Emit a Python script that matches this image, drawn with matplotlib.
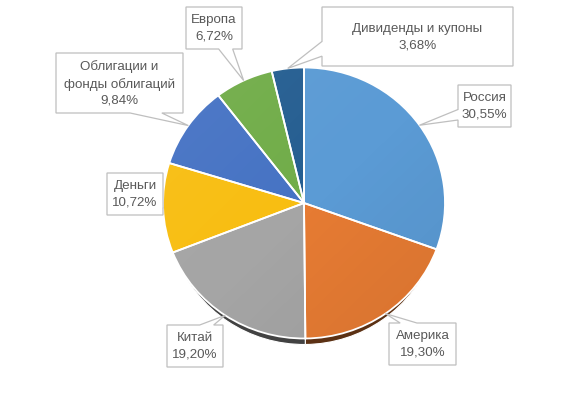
import matplotlib
matplotlib.use('Agg')
import matplotlib.pyplot as plt
from matplotlib.patches import Polygon, Circle
from matplotlib.colors import to_rgb
import numpy as np

# ---------------- data ----------------
categories = ['Россия', 'Америка', 'Китай', 'Деньги',
              'Облигации и\nфонды облигаций', 'Европа', 'Дивиденды и купоны']
shares = [30.55, 19.30, 19.20, 10.72, 9.84, 6.72, 3.68]

# ---------------- style / layout ----------------
colors = ['#5B9BD5', '#E67B33', '#A5A5A5', '#F8BE12', '#4673C4', '#71AD49', '#255E91']
shadow_colors = [tuple(c * 0.4 for c in to_rgb(col)) for col in colors]
W, H = 584, 420
CX, CY, RX, RY = 304, 203, 141, 135.5
# label boxes in pixel coords (x0, y0, x1, y1), y measured downward
boxes = [(458, 85, 511, 127), (389, 323, 456, 365), (167, 325, 223, 367),
         (107, 173, 163, 215), (56, 53, 183, 113), (186, 7, 242, 49),
         (322, 7, 513, 66)]
FONT = 'Liberation Sans'
TXT = '#595959'
EDGE = '#BFBFBF'

fig = plt.figure(figsize=(W / 100, H / 100), dpi=100)
M = 1.05


def pie_axes(cx, cy, rx, ry):
    return fig.add_axes([(cx - rx * M) / W, (H - cy - ry * M) / H,
                         2 * rx * M / W, 2 * ry * M / H])


def finish(ax):
    ax.set_xlim(-M, M)
    ax.set_ylim(-M, M)
    ax.set_aspect('auto')
    ax.set_axis_off()


# shadow (3-D rim under the pie)
sax = pie_axes(CX, CY + 6, RX * 0.97, RY)
sax.pie(shares, colors=shadow_colors, startangle=90, counterclock=False,
        wedgeprops=dict(linewidth=0.8, edgecolor='white'))
finish(sax)

# main pie (fills)
pax = pie_axes(CX, CY, RX, RY)
wedges, _ = pax.pie(shares, colors=colors, startangle=90, counterclock=False,
                    wedgeprops=dict(linewidth=0))
# subtle lighting gradient: lighter top-left, darker bottom-right
gx, gy = np.meshgrid(np.linspace(-1, 1, 200), np.linspace(1, -1, 200))
t = np.clip((gx - gy) / 2.8 + 0.5, 0, 1)
grad = np.zeros((200, 200, 4))
grad[..., :3] = np.where(t[..., None] < 0.5, 1.0, 0.0)
grad[..., 3] = np.abs(t - 0.5) * np.where(t < 0.5, 0.08, 0.09)
im = pax.imshow(grad, extent=(-1, 1, -1, 1), zorder=2, interpolation='bilinear')
im.set_clip_path(Circle((0, 0), 1, transform=pax.transData))
# white separators on top
pax.pie(shares, colors=['none'] * len(shares), startangle=90, counterclock=False,
        wedgeprops=dict(linewidth=1.3, edgecolor='white', zorder=3))
finish(pax)

# overlay for callouts
oax = fig.add_axes([0, 0, 1, 1])
oax.set_xlim(0, W)
oax.set_ylim(H, 0)
oax.set_axis_off()
oax.patch.set_alpha(0)


def callout(box, tip):
    x0, y0, x1, y1 = box
    w, h = x1 - x0, y1 - y0
    cx, cy = (x0 + x1) / 2, (y0 + y1) / 2
    dx, dy = tip[0] - cx, tip[1] - cy
    if x0 <= tip[0] <= x1 and y0 <= tip[1] <= y1:
        return [(x0, y0), (x1, y0), (x1, y1), (x0, y1)]
    if abs(dx) / w > abs(dy) / h:
        f = (7 / 12, 10 / 12) if dy > 0 else (2 / 12, 5 / 12)
        ya, yb = y0 + f[0] * h, y0 + f[1] * h
        if dx > 0:
            return [(x0, y0), (x1, y0), (x1, ya), tip, (x1, yb), (x1, y1), (x0, y1)]
        return [(x0, y0), (x1, y0), (x1, y1), (x0, y1), (x0, yb), tip, (x0, ya)]
    f = (7 / 12, 10 / 12) if dx > 0 else (2 / 12, 5 / 12)
    xa, xb = x0 + f[0] * w, x0 + f[1] * w
    if dy > 0:
        return [(x0, y0), (x1, y0), (x1, y1), (xb, y1), tip, (xa, y1), (x0, y1)]
    return [(x0, y0), (xa, y0), tip, (xb, y0), (x1, y0), (x1, y1), (x0, y1)]


inv = oax.transData.inverted()
for wdg, cat, val, box in zip(wedges, categories, shares, boxes):
    ang = np.deg2rad((wdg.theta1 + wdg.theta2) / 2)
    disp = pax.transData.transform((np.cos(ang), np.sin(ang)))
    tip = tuple(inv.transform(disp))
    poly = Polygon(callout(box, tip), closed=True, facecolor='white',
                   edgecolor=EDGE, linewidth=0.9, zorder=3)
    oax.add_patch(poly)
    label = cat + '\n' + f'{val:.2f}'.replace('.', ',') + '%'
    oax.text((box[0] + box[2]) / 2, (box[1] + box[3]) / 2 + 0.5, label,
             ha='center', va='center', multialignment='center',
             fontsize=9.6, family=FONT, color=TXT, linespacing=1.45, zorder=4)

fig.savefig('out.png', dpi=100, facecolor='white')
